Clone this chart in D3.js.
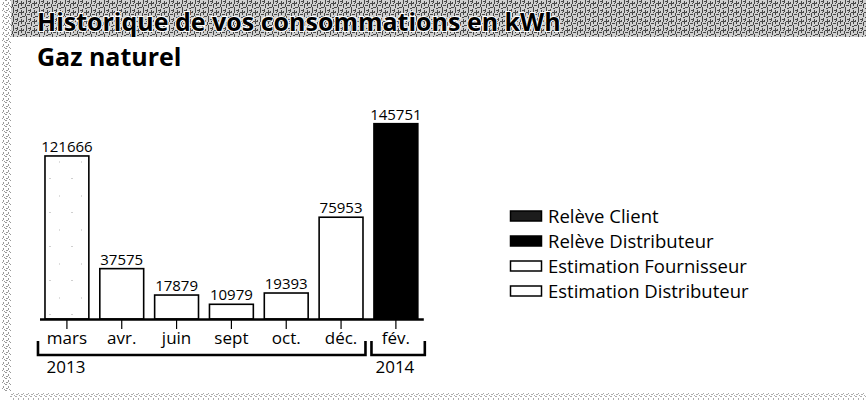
<!DOCTYPE html>
<html>
<head>
<meta charset="utf-8">
<script src="https://cdn.jsdelivr.net/npm/d3@7"></script>
<style>
  html, body { margin: 0; padding: 0; background: #fff; }
  svg { display: block; font-family: "Open Sans", "Noto Sans", sans-serif; }
</style>
</head>
<body>
<svg id="chart" width="866" height="405"></svg>
<script>
// Monthly gas readings (kWh)
const months = ["mars", "avr.", "juin", "sept", "oct.", "déc.", "fév."];
const values = [121666, 37575, 17879, 10979, 19393, 75953, 145751];
const readingTypes = [
  "Estimation Distributeur",
  "Estimation Fournisseur",
  "Estimation Fournisseur",
  "Estimation Fournisseur",
  "Estimation Fournisseur",
  "Estimation Fournisseur",
  "Relève Distributeur"
];
// Year groups: first and last month index of each
const years = ["2013", "2014"];
const yearFirst = [0, 6];
const yearLast = [5, 6];
const legendLabels = ["Relève Client", "Relève Distributeur", "Estimation Fournisseur", "Estimation Distributeur"];

const svg = d3.select("#chart");
const defs = svg.append("defs");

// Halftone-like texture for the header band
const band = defs.append("pattern").attr("id", "bandTex")
  .attr("width", 13).attr("height", 9).attr("patternUnits", "userSpaceOnUse");
band.append("rect").attr("width", 13).attr("height", 9).attr("fill", "#d0d0d0");
[[0,0,1,4],[2,1,3,1],[4,0,1,3],[6,3,4,1],[8,1,1,5],[1,5,3,1],[5,4,1,4],[9,7,3,1],[3,3,1,1],[10,2,1,2],[12,4,1,3],[7,8,2,1],[0,7,1,2]]
  .forEach(([x, y, w, h]) => band.append("rect").attr("x", x).attr("y", y).attr("width", w).attr("height", h).attr("fill", "#474747"));

// Light speckle for scan edges
const edge = defs.append("pattern").attr("id", "edgeTex")
  .attr("width", 5).attr("height", 6).attr("patternUnits", "userSpaceOnUse");
edge.append("rect").attr("width", 5).attr("height", 6).attr("fill", "#fff");
[[0,0,2,1],[3,2,1,2],[1,4,2,1],[4,5,1,1]]
  .forEach(([x, y, w, h]) => edge.append("rect").attr("x", x).attr("y", y).attr("width", w).attr("height", h).attr("fill", "#9a9a9a"));

// Sparse specks for distributor estimates
const dots = defs.append("pattern").attr("id", "dotTex")
  .attr("width", 22).attr("height", 34).attr("patternUnits", "userSpaceOnUse");
dots.append("rect").attr("width", 22).attr("height", 34).attr("fill", "#fff");
dots.append("rect").attr("x", 5).attr("y", 8).attr("width", 2).attr("height", 1).attr("fill", "#d0d0d0");
dots.append("rect").attr("x", 15).attr("y", 25).attr("width", 1).attr("height", 2).attr("fill", "#dddddd");

const fillFor = {
  "Relève Client": "#1c1c1c",
  "Relève Distributeur": "#000",
  "Estimation Fournisseur": "#fff",
  "Estimation Distributeur": "url(#dotTex)"
};

// Header band and scan edges
svg.append("rect").attr("x", 10).attr("y", 0).attr("width", 856).attr("height", 37).attr("fill", "url(#bandTex)");
svg.append("rect").attr("x", 2).attr("y", 0).attr("width", 9).attr("height", 392).attr("fill", "url(#edgeTex)");
svg.append("rect").attr("x", 10).attr("y", 393).attr("width", 856).attr("height", 7).attr("fill", "url(#edgeTex)").attr("opacity", 0.8);

svg.append("text").attr("x", 37).attr("y", 31)
  .attr("font-size", 25).attr("font-weight", 700).attr("fill", "#000")
  .attr("stroke", "#fff").attr("stroke-width", 2).attr("paint-order", "stroke")
  .text("Historique de vos consommations en kWh");
svg.append("text").attr("x", 37).attr("y", 66)
  .attr("font-size", 25).attr("font-weight", 700).attr("fill", "#000")
  .text("Gaz naturel");

// Scales
const x = d3.scaleBand().domain(months).range([39.5, 423.3]).paddingInner(0.2).paddingOuter(0.1);
const y = d3.scaleLinear().domain([0, 150000]).range([319, 118]);
const bw = x.bandwidth();
const gap = x.step() - bw;

const bars = svg.append("g");
bars.selectAll("rect").data(months).join("rect")
  .attr("x", d => x(d))
  .attr("y", (d, i) => y(values[i]))
  .attr("width", bw)
  .attr("height", (d, i) => y(0) - y(values[i]))
  .attr("fill", (d, i) => fillFor[readingTypes[i]])
  .attr("stroke", "#000").attr("stroke-width", 1.6);

bars.selectAll("text").data(months).join("text")
  .attr("x", d => x(d) + bw / 2)
  .attr("y", (d, i) => y(values[i]) - 4)
  .attr("text-anchor", "middle").attr("font-size", 15).attr("fill", "#000")
  .text((d, i) => values[i]);

// Month axis
const axis = svg.append("g").attr("transform", `translate(0,${y(0)})`)
  .call(d3.axisBottom(x).tickSize(10).tickSizeOuter(0).tickPadding(3));
axis.select(".domain").attr("stroke", "#000").attr("stroke-width", 2.6);
axis.selectAll(".tick line").attr("stroke", "#000").attr("stroke-width", 1.2);
axis.selectAll(".tick text").attr("font-size", 17).attr("fill", "#000")
  .attr("font-family", "'Open Sans', sans-serif");

// Year brackets
const brY0 = 341, brY1 = 355;
const brackets = svg.append("g").attr("fill", "none").attr("stroke", "#000").attr("stroke-width", 2.6);
years.forEach((yr, k) => {
  const first = months[yearFirst[k]], last = months[yearLast[k]];
  const left = k === 0 ? x(first) - 7 : x(first) - (gap / 2 - 3);
  const right = k === years.length - 1 ? x(last) + bw + 7 : x(last) + bw + (gap / 2 - 3);
  brackets.append("path").attr("d", `M${left},${brY0}V${brY1}H${right}V${brY0}`);
  svg.append("text").attr("x", x(first) + 1.5).attr("y", 373)
    .attr("font-size", 17).attr("fill", "#000").text(yr);
});

// Legend
const legend = svg.append("g").attr("transform", "translate(510,216)");
const row = legend.selectAll("g").data(legendLabels).join("g")
  .attr("transform", (d, i) => `translate(0,${i * 25})`);
row.append("rect").attr("x", 0.5).attr("y", -5).attr("width", 31).attr("height", 10)
  .attr("fill", d => fillFor[d]).attr("stroke", "#000").attr("stroke-width", 1.5);
row.append("text").attr("x", 38).attr("y", 6.5)
  .attr("font-size", 18.5).attr("fill", "#000").text(d => d);
</script>
</body>
</html>
